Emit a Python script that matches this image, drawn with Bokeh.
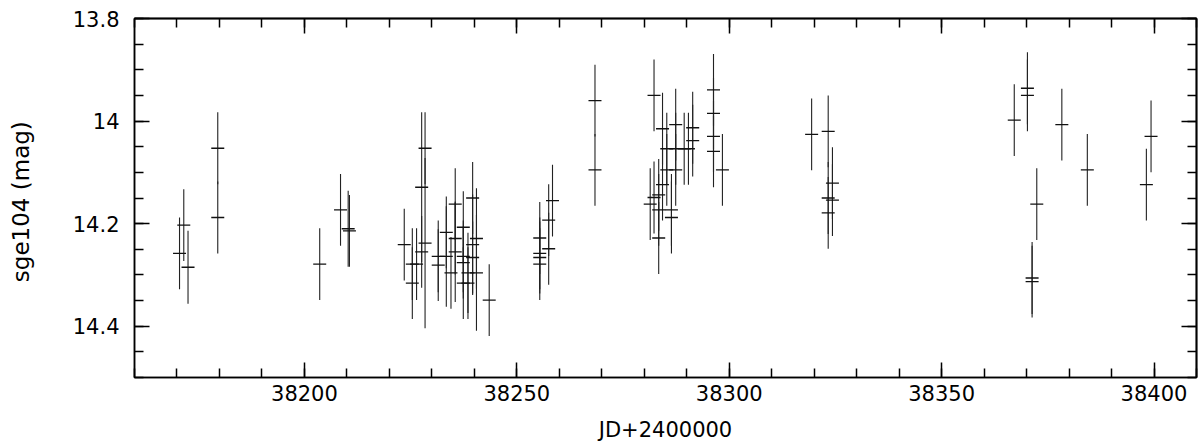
from bokeh.plotting import figure
from bokeh.models import Range1d, FixedTicker, LinearAxis, ColumnDataSource
from bokeh.embed import file_html
from bokeh.resources import INLINE

# Julian dates (JD - 2400000)
jd = [38170.6, 38171.6, 38172.6, 38179.6, 38179.6, 38203.6, 38208.5, 38210.3, 38210.6,
      38223.5, 38225.4, 38225.4, 38226.4, 38227.6, 38227.6, 38228.4, 38228.4,
      38231.5, 38231.5, 38233.4, 38233.4, 38234.5, 38235.5, 38235.5, 38235.5,
      38237.4, 38237.4, 38237.4, 38237.4, 38238.5, 38238.5, 38239.6, 38239.6, 38239.6,
      38240.5, 38240.5, 38243.5,
      38255.4, 38255.4, 38255.4, 38255.4, 38257.5, 38257.5, 38258.4,
      38268.4, 38268.4,
      38281.4, 38282.3, 38282.3, 38283.4, 38283.4, 38283.4, 38284.3, 38284.3,
      38285.3, 38285.3, 38286.4, 38286.4, 38287.4, 38287.4, 38287.4, 38289.4, 38290.4,
      38291.4, 38291.4, 38296.3, 38296.3, 38296.3, 38296.3, 38298.4,
      38319.4, 38323.3, 38323.3, 38323.3, 38324.3, 38324.3,
      38367.1, 38370.2, 38370.2, 38371.3, 38371.3, 38372.4, 38378.3, 38384.3,
      38398.2, 38399.3]

# magnitudes
mag = [14.258, 14.203, 14.285, 14.053, 14.188, 14.279, 14.173, 14.210, 14.214,
       14.241, 14.279, 14.316, 14.279, 14.129, 14.255, 14.053, 14.238,
       14.264, 14.281, 14.217, 14.264, 14.296, 14.162, 14.229, 14.255,
       14.207, 14.264, 14.276, 14.316, 14.296, 14.316, 14.150, 14.241, 14.266,
       14.229, 14.296, 14.349,
       14.228, 14.258, 14.266, 14.279, 14.193, 14.249, 14.155,
       13.960, 14.095,
       14.162, 13.950, 14.149, 14.144, 14.173, 14.228, 14.015, 14.124,
       14.054, 14.095, 14.173, 14.188, 14.007, 14.054, 14.095, 14.054, 14.054,
       14.013, 14.038, 13.939, 13.985, 14.030, 14.059, 14.095,
       14.026, 14.020, 14.150, 14.179, 14.121, 14.154,
       13.998, 13.936, 13.950, 14.306, 14.313, 14.162, 14.007, 14.095,
       14.124, 14.030]

# magnitude errors
err = [0.070, 0.070, 0.071, 0.070, 0.070, 0.070, 0.070, 0.074, 0.070,
       0.070, 0.070, 0.070, 0.070, 0.146, 0.070, 0.070, 0.166,
       0.070, 0.070, 0.070, 0.098, 0.070, 0.070, 0.070, 0.098,
       0.070, 0.070, 0.070, 0.070, 0.078, 0.070, 0.070, 0.098, 0.070,
       0.098, 0.113, 0.070,
       0.070, 0.070, 0.070, 0.070, 0.070, 0.070, 0.070,
       0.070, 0.070,
       0.070, 0.070, 0.070, 0.070, 0.070, 0.070, 0.070, 0.070,
       0.070, 0.070, 0.070, 0.070, 0.070, 0.070, 0.070, 0.070, 0.070,
       0.070, 0.070, 0.070, 0.070, 0.070, 0.070, 0.070,
       0.070, 0.070, 0.070, 0.070, 0.070, 0.070,
       0.070, 0.070, 0.070, 0.070, 0.070, 0.070, 0.070, 0.070,
       0.070, 0.070]

x_major = [38200, 38250, 38300, 38350, 38400]
x_minor = [38160, 38170, 38180, 38190, 38200, 38210, 38220, 38230, 38240, 38250,
           38260, 38270, 38280, 38290, 38300, 38310, 38320, 38330, 38340, 38350,
           38360, 38370, 38380, 38390, 38400, 38410]
y_major = [13.8, 14.0, 14.2, 14.4]
y_labels = ["13.8", "14", "14.2", "14.4"]
y_minor = [13.8, 13.85, 13.9, 13.95, 14.0, 14.05, 14.1, 14.15, 14.2, 14.25,
           14.3, 14.35, 14.4, 14.45, 14.5]

lo = [m - e for m, e in zip(mag, err)]
hi = [m + e for m, e in zip(mag, err)]
src = ColumnDataSource(dict(jd=jd, mag=mag, lo=lo, hi=hi))

FONT = "DejaVu Sans"

p = figure(width=1200, height=448,
           x_range=Range1d(38160, 38410), y_range=Range1d(14.5, 13.8),
           output_backend="svg", toolbar_location=None,
           min_border_left=134, min_border_top=18, min_border_right=4,
           min_border_bottom=71,
           background_fill_color="white", border_fill_color="white")
p.grid.visible = False
p.outline_line_color = "black"
p.outline_line_width = 1.5

p.segment(x0="jd", y0="lo", x1="jd", y1="hi", source=src,
          line_color="#222222", line_width=1.1)
p.scatter(x="jd", y="mag", marker="dash", size=13, source=src,
          line_color="#111111", line_width=1.3)


def style(ax):
    ax.axis_line_color = "black"
    ax.axis_line_width = 1.5
    ax.major_tick_line_color = "black"
    ax.minor_tick_line_color = "black"
    ax.major_tick_line_width = 1.5
    ax.minor_tick_line_width = 1.5
    ax.major_tick_in = 15
    ax.major_tick_out = 0
    ax.minor_tick_in = 9
    ax.minor_tick_out = 0
    ax.major_label_text_font = FONT
    ax.major_label_text_font_size = "21px"
    ax.major_label_text_color = "black"
    ax.axis_label_text_font = FONT
    ax.axis_label_text_font_size = "21px"
    ax.axis_label_text_font_style = "normal"
    ax.axis_label_text_color = "black"


xa = p.xaxis[0]
xa.ticker = FixedTicker(ticks=x_major, minor_ticks=x_minor)
style(xa)
xa.axis_label = "JD+2400000"
xa.major_label_standoff = 7
xa.axis_label_standoff = 14

ya = p.yaxis[0]
ya.ticker = FixedTicker(ticks=y_major, minor_ticks=y_minor)
style(ya)
ya.axis_label = "sge104  (mag)"
ya.axis_label_text_font_size = "23px"
ya.major_label_standoff = 15
ya.axis_label_standoff = 36
ya.major_label_overrides = {t: s for t, s in zip(y_major, y_labels)}


def tick_only_axis(positions, length):
    ax = LinearAxis(ticker=FixedTicker(ticks=[], minor_ticks=positions))
    ax.axis_line_color = "black"
    ax.axis_line_width = 1.5
    ax.major_tick_line_color = None
    ax.major_tick_in = 0
    ax.major_tick_out = 0
    ax.minor_tick_line_color = "black"
    ax.minor_tick_line_width = 1.5
    ax.minor_tick_in = length
    ax.minor_tick_out = 0
    ax.major_label_standoff = 0
    return ax


p.add_layout(tick_only_axis(x_minor, 9), "above")
p.add_layout(tick_only_axis(x_major, 15), "above")
p.add_layout(tick_only_axis(y_minor, 9), "right")
p.add_layout(tick_only_axis(y_major, 15), "right")

open("out.html", "w").write(file_html(p, INLINE))
